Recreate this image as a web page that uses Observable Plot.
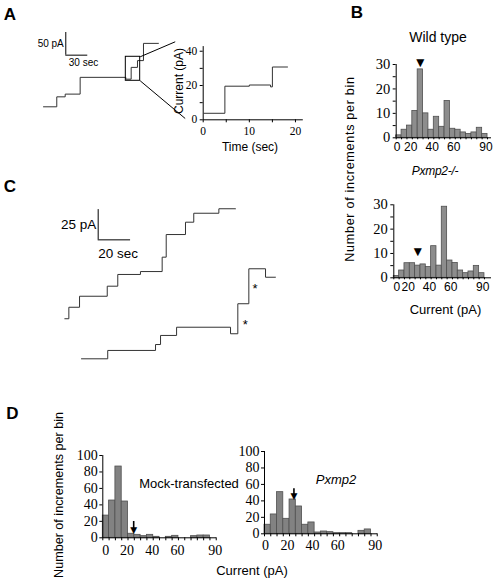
<!DOCTYPE html>
<html><head><meta charset="utf-8">
<script src="https://cdn.jsdelivr.net/npm/d3@7"></script>
<script src="https://cdn.jsdelivr.net/npm/@observablehq/plot@0.6"></script>
<style>
html,body{margin:0;padding:0;background:#fff;}
#fig{position:relative;width:498px;height:582px;overflow:hidden;background:#fff;font-family:"Liberation Sans",Arial,sans-serif;color:#000;}
#fig svg{position:absolute;left:0;top:0;overflow:visible;}
.lbl{position:absolute;white-space:nowrap;line-height:1;transform:translate(-50%,-50%);}
</style></head><body><div id="fig"></div>
<script>
// ================= DATA =================
// Panel A: whole-cell current trace (time in sec, current in pA)
const aStepTimes  = [0, 18.1, 29.6, 50, 112.3, 119.6, 128.2, 136.4, 157];
const aStepLevels = [0, 22, 28, 65, 61, 87, 102, 140];
const aScaleBar   = {sec: 30, pA: 50};
// zoomed window (the boxed part of the trace)
const aZoomWindow = {t0: 112.3, t1: 131.9, i0: 57.4, i1: 110.4};
// Panel A inset: expanded trace
const insetTimes  = [0.2, 4.7, 10, 14.6, 15.0, 18.3];
const insetLevels = [3.8, 19.6, 20.3, 19.2, 30.8];
const insetXTicks = [0, 5, 10, 15, 20];
const insetXLabels = [0, 10, 20];
const insetYTicks = [0, 10, 20, 30, 40];
const insetYLabels = [0, 20, 40];

// Panel C: two traces (time in sec, current in pA)
const cUpperTimes  = [0, 2.5, 9.1, 26.2, 32.7, 46.7, 60.1, 62.6, 74.5, 79.6, 95.1, 105.4];
const cUpperLevels = [33.1, 42.6, 51.7, 60, 69.7, 72.1, 84, 102.7, 112.9, 120.3, 124];
const cLowerTimes  = [10.3, 26.5, 56, 59.1, 69, 102.3, 106.8, 113.6, 123.9, 130.1];
const cLowerLevels = [0, 6.9, 11.8, 19.3, 26.1, 20.7, 45.5, 74.4, 67.4];
const cScaleBar    = {sec: 20, pA: 25};
const cStarred     = [{t: 111.4, i: 30.2}, {t: 117.5, i: 60}];

// Histograms: bins of 5 pA
const binStarts = [0, 5, 10, 15, 20, 25, 30, 35, 40, 45, 50, 55, 60, 65, 70, 75, 80];
const binWidth = 5;
const wildTypeCounts = [1, 3.3, 5, 11, 28, 10, 3.3, 8.6, 4.5, 15.1, 3.7, 3.3, 2.2, 1.6, 2.2, 4.1, 1.6];
const knockoutCounts = [0.7, 3, 6, 6, 5, 5.5, 4.4, 13, 5, 29.2, 7.1, 6.1, 3, 1.9, 2.6, 4.9, 1.9];
const mockCounts     = [27, 45.3, 86.6, 44.1, 4.9, 3.6, 2, 3.6, 1.2, 0, 1.2, 2.4, 0, 0, 2, 2.8, 2.8];
const pxmp2Counts    = [11, 23.5, 50.6, 18.2, 41.7, 33.2, 11, 13.8, 1.6, 2.8, 2, 0.8, 0.8, 0.8, 0, 3.6, 5.3];
// arrowheads marking the unitary conductance (pA) and their height (count units)
const wildTypeArrow = {x: 22.4, y: 30.6};
const knockoutArrow = {x: 22.5, y: 10.6};
const mockArrow     = {x: 24.5, y: 9.5, top: 19.8};
const pxmp2Arrow    = {x: 23.5, y: 45.6, top: 54.7};
const bXLabels = [0, 20, 40, 60, 90];
const bXTicks  = [0, 5, 10, 15, 20, 25, 30, 35, 40, 45, 50, 55, 60, 65, 70, 75, 80, 85];
const bYTicks  = [0, 5, 10, 15, 20, 25, 30];
const bYLabels = [0, 10, 20, 30];
const dXLabels = [0, 20, 40, 60, 90];
const dXTicks  = [0, 5, 10, 15, 20, 25, 30, 35, 40, 45, 50, 55, 60, 65, 70, 75, 80, 85, 90];
const dYTicks  = [0, 20, 40, 60, 80, 100];
const dYLabels = [0, 20, 40, 60, 80, 100];

// ================= LAYOUT =================
const fig = document.getElementById("fig");
const W = 498, H = 582;
const SANS = "Liberation Sans, Arial, Helvetica, sans-serif";
const SERIF = "Liberation Serif, Times New Roman, serif";
const SYM = "DejaVu Sans, sans-serif";
const TRACE = "#333";

function addPlot(frame, xDomain, yDomain, marks) {
  const [l, r, t, b] = frame;
  const svg = Plot.plot({
    width: W, height: H,
    marginLeft: l, marginRight: W - r, marginTop: t, marginBottom: H - b,
    x: {domain: xDomain, axis: null},
    y: {domain: yDomain, axis: null},
    style: {background: "transparent", overflow: "visible", fontFamily: SANS, fontSize: "12px", color: "#000"},
    marks
  });
  fig.appendChild(svg);
  return svg;
}
function steps(times, levels) {
  const pts = levels.map((v, i) => ({t: times[i], v}));
  pts.push({t: times[times.length - 1], v: levels[levels.length - 1]});
  return pts;
}
function label(text, cx, cy, style) {
  const d = document.createElement("div");
  d.className = "lbl";
  d.textContent = text;
  d.style.left = cx + "px";
  d.style.top = cy + "px";
  Object.assign(d.style, style || {});
  fig.appendChild(d);
}

// ---- Panel A main trace ----
const aBarAt = {t: 30.4, i: 114};
addPlot([43, 43 + 160 * 0.733, 106.3 - 165 * 0.453, 106.3], [0, 160], [0, 165], [
  Plot.line(steps(aStepTimes, aStepLevels), {x: "t", y: "v", curve: "step-after", stroke: TRACE, strokeWidth: 1}),
  Plot.ruleX([aBarAt], {x: "t", y1: "i", y2: d => d.i + aScaleBar.pA, stroke: "#000"}),
  Plot.ruleY([aBarAt], {y: "i", x1: "t", x2: d => d.t + aScaleBar.sec, stroke: "#000"}),
  Plot.text([aBarAt], {x: "t", y: d => d.i + aScaleBar.pA / 2, text: () => `${aScaleBar.pA} pA`, textAnchor: "end", dx: -2, fontSize: 10}),
  Plot.text([aBarAt], {x: "t", y: "i", text: () => `${aScaleBar.sec} sec`, textAnchor: "start", dx: 3, dy: 8, fontSize: 10}),
  Plot.rect([aZoomWindow], {x1: "t0", x2: "t1", y1: "i0", y2: "i1", fill: "none", stroke: "#000", strokeWidth: 1}),
  Plot.link([{x1: aZoomWindow.t1, y1: aZoomWindow.i1, x2: 179.7, y2: 143.5},
             {x1: aZoomWindow.t1, y1: aZoomWindow.i0, x2: 193.3, y2: -25.8}],
            {x1: "x1", y1: "y1", x2: "x2", y2: "y2", stroke: "#000", strokeWidth: 1})
]);

// ---- Panel A inset ----
{
  const frame = [202.7, 302.8, 46.1, 119.3], xd = [0, 21.7], yd = [0, 42.7];
  const px = (frame[1] - frame[0]) / xd[1], py = (frame[3] - frame[2]) / yd[1];
  addPlot(frame, xd, yd, [
    Plot.line(steps(insetTimes, insetLevels), {x: "t", y: "v", curve: "step-after", stroke: TRACE, strokeWidth: 1}),
    Plot.ruleX([0], {y1: 0, y2: yd[1], stroke: "#000"}),
    Plot.ruleY([0], {x1: 0, x2: xd[1], stroke: "#000"}),
    Plot.ruleY(insetYTicks, {y: d => d, x1: 0, x2: -3 / px, stroke: "#000"}),
    Plot.ruleX(insetXTicks, {x: d => d, y1: 0, y2: -3 / py, stroke: "#000"}),
    Plot.text(insetYLabels, {x: () => 0, y: d => d, text: d => String(d), textAnchor: "end", dx: -6, fontFamily: SERIF, fontSize: 11.5}),
    Plot.text(insetXLabels, {x: d => d, y: () => 0, text: d => String(d), dy: 12, fontFamily: SERIF, fontSize: 11.5})
  ]);
}

// ---- Panel C ----
const cBarAt = {t: 20.6, i: 98.3};
addPlot([64.3, 64.3 + 131 * 1.62, 358.3 - 125 * 1.21, 358.3], [0, 131], [0, 125], [
  Plot.line(steps(cUpperTimes, cUpperLevels), {x: "t", y: "v", curve: "step-after", stroke: TRACE, strokeWidth: 1}),
  Plot.line(steps(cLowerTimes, cLowerLevels), {x: "t", y: "v", curve: "step-after", stroke: TRACE, strokeWidth: 1}),
  Plot.ruleX([cBarAt], {x: "t", y1: "i", y2: d => d.i + cScaleBar.pA, stroke: "#000"}),
  Plot.ruleY([cBarAt], {y: "i", x1: "t", x2: d => d.t + cScaleBar.sec, stroke: "#000"}),
  Plot.text([cBarAt], {x: "t", y: d => d.i + cScaleBar.pA / 2, text: () => `${cScaleBar.pA} pA`, textAnchor: "end", dx: -2, fontSize: 13.5}),
  Plot.text([cBarAt], {x: "t", y: "i", text: () => `${cScaleBar.sec} sec`, textAnchor: "start", dx: 0, dy: 14, fontSize: 13.5}),
  Plot.text(cStarred, {x: "t", y: "i", text: () => "*", fontSize: 13, dy: 3})
]);

// ---- Histograms ----
function histogram(o) {
  const [l, r, t, b] = o.frame;
  const px = (r - l) / o.xMax, py = (b - t) / o.yMax;
  const bars = o.counts.map((c, i) => ({x1: binStarts[i], x2: binStarts[i] + binWidth, c}));
  const marks = [
    Plot.rectY(bars, {x1: "x1", x2: "x2", y: "c", fill: o.fill, stroke: "#505050", strokeWidth: 0.8}),
    Plot.ruleY([0], {x1: 0, x2: o.xMax, stroke: "#000"}),
    Plot.ruleX([0], {y1: 0, y2: o.yMax, stroke: "#000"}),
    Plot.ruleY(o.yTicks, {y: d => d, x1: 0, x2: -3 / px, stroke: "#000"}),
    Plot.ruleX(o.xTicks, {x: d => d, y1: 0, y2: -o.xTickLen / py, stroke: "#000"}),
    Plot.text(o.yLabels, {x: () => 0, y: d => d, text: d => String(d), textAnchor: "end", dx: o.yDx, fontFamily: SERIF, fontSize: o.yFont}),
    Plot.text(o.xLabels.filter(v => v === 0), {x: d => d, y: () => 0, text: d => String(d), dx: o.x0Dx, dy: o.xDy, fontFamily: o.xFamily, fontSize: o.xFont}),
    Plot.text(o.xLabels.filter(v => v !== 0), {x: d => d, y: () => 0, text: d => String(d), dx: o.xDx, dy: o.xDy, fontFamily: o.xFamily, fontSize: o.xFont}),
    Plot.text([o.arrow], {x: "x", y: "y", text: () => "\u25BC", fontFamily: SYM, fontSize: o.arrowSize, fill: "#000"})
  ];
  if (o.arrow.top != null) {
    marks.push(Plot.ruleX([o.arrow], {x: "x", y1: "y", y2: "top", stroke: "#000", strokeWidth: 1.6}));
  }
  addPlot(o.frame, [0, o.xMax], [0, o.yMax], marks);
}

histogram({frame: [395.7, 491, 64, 137.3], xMax: 88.7, yMax: 30, counts: wildTypeCounts, fill: "#8d8d8d",
  yTicks: bYTicks, yLabels: bYLabels, xTicks: bXTicks, xLabels: bXLabels, xTickLen: 2,
  yDx: -6, yFont: 14.5, xDy: 9, xDx: -7, x0Dx: 1, xFamily: SANS, xFont: 12, arrow: wildTypeArrow, arrowSize: 10.5});
histogram({frame: [393.3, 491, 204.3, 277.3], xMax: 91.6, yMax: 30, counts: knockoutCounts, fill: "#8d8d8d",
  yTicks: bYTicks, yLabels: bYLabels, xTicks: bXTicks, xLabels: bXLabels, xTickLen: 2,
  yDx: -6, yFont: 14.5, xDy: 9, xDx: -7, x0Dx: 3, xFamily: SANS, xFont: 12, arrow: knockoutArrow, arrowSize: 10.5});
histogram({frame: [102.3, 216, 455, 537.3], xMax: 90.2, yMax: 100, counts: mockCounts, fill: "#828282",
  yTicks: dYTicks, yLabels: dYLabels, xTicks: dXTicks, xLabels: dXLabels, xTickLen: 3,
  yDx: -5, yFont: 14, xDy: 12.5, xDx: -1, x0Dx: 3, xFamily: SERIF, xFont: 14, arrow: mockArrow, arrowSize: 9});
histogram({frame: [264, 377, 451, 533.3], xMax: 90.2, yMax: 100, counts: pxmp2Counts, fill: "#828282",
  yTicks: dYTicks, yLabels: dYLabels, xTicks: dXTicks, xLabels: dXLabels, xTickLen: 3,
  yDx: -5, yFont: 14, xDy: 11.5, xDx: -2, x0Dx: 1, xFamily: SERIF, xFont: 14, arrow: pxmp2Arrow, arrowSize: 9});

// ---- Free text ----
const bold = {fontWeight: "bold", fontSize: "17px"};
label("A", 10, 13.5, bold);
label("B", 357, 12, bold);
label("C", 10, 186, bold);
label("D", 12.5, 412.5, bold);
label("Current (pA)", 179, 81, {fontSize: "12px", transform: "translate(-50%,-50%) rotate(-90deg)"});
label("Time (sec)", 250, 147, {fontSize: "12px"});
label("Wild type", 438, 37, {fontSize: "14px"});
label("Pxmp2-/-", 435, 171, {fontSize: "12px", fontStyle: "italic", letterSpacing: "-0.3px"});
label("Number of increments per bin", 350, 169, {fontSize: "12.6px", letterSpacing: "0.7px", transform: "translate(-50%,-50%) rotate(-90deg)"});
label("Current (pA)", 445.5, 309, {fontSize: "13px"});
label("Number of increments per bin", 59, 495, {fontSize: "12.6px", transform: "translate(-50%,-50%) rotate(-90deg)"});
label("Mock-transfected", 189, 483.3, {fontSize: "13px"});
label("Pxmp2", 336, 479, {fontSize: "13px", fontStyle: "italic"});
label("Current (pA)", 252, 570, {fontSize: "13px"});
</script></body></html>
